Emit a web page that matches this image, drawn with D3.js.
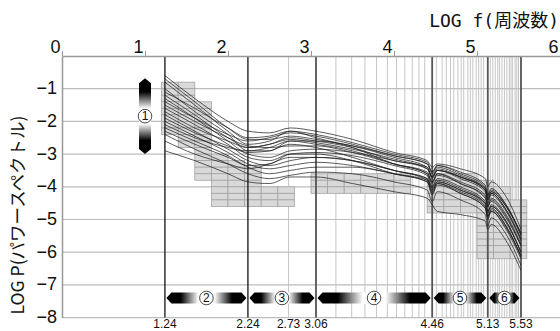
<!DOCTYPE html>
<html>
<head>
<meta charset="utf-8">
<script src="https://cdn.jsdelivr.net/npm/d3@7"></script>
<style>
body { margin: 0; background: #fff; }
svg { display: block; }
text { font-family: "Liberation Sans Narrow", "Liberation Sans", "Noto Sans CJK JP", sans-serif; fill: #111; }
</style>
</head>
<body>
<div id="chart"></div>
<script>
// values
const xTicks = [0, 1, 2, 3, 4, 5, 6];
const yTicks = [-1, -2, -3, -4, -5, -6, -7, -8];
const bandEdges = [1.24, 2.24, 3.06, 4.46, 5.13, 5.53];
const edgeLabels = [1.24, 2.24, 2.73, 3.06, 4.46, 5.13, 5.53];
const bandNames = ["2", "3", "4", "5", "6"];
const thinLines = [2.73,
    3.30, 3.49, 3.65, 3.79, 3.92, 4.03, 4.13, 4.22, 4.30, 4.37,
    4.51, 4.58, 4.63, 4.68, 4.72, 4.77, 4.81, 4.84, 4.89, 4.92, 4.95, 4.99, 5.02, 5.05, 5.08,
    5.16, 5.19, 5.22, 5.25, 5.27, 5.30, 5.33, 5.36, 5.39, 5.41, 5.43, 5.46, 5.48, 5.50];

// shaded cell columns: [start log f, top log P, bottom log P]
const cellCols = [
    [1.2, -0.8, -2.4], [1.4, -0.8, -2.8], [1.6, -1.4, -3.8], [1.8, -3.0, -4.6],
    [2.0, -3.2, -4.6], [2.2, -3.4, -4.6], [2.4, -4.0, -4.6], [2.6, -4.0, -4.6],
    [3.0, -3.6, -4.2], [3.2, -3.6, -4.2], [3.4, -3.6, -4.2], [3.6, -3.6, -4.2],
    [3.8, -3.6, -4.2], [4.0, -3.6, -4.2],
    [4.4, -3.6, -4.8], [4.6, -3.6, -4.8], [4.8, -3.6, -4.8],
    [5.0, -3.8, -6.2], [5.2, -4.0, -6.2], [5.4, -4.4, -6.2]
];

const specX = [1.24, 1.6, 2.0, 2.24, 2.5, 2.75, 3.06, 3.5, 4.0, 4.4, 4.46, 4.52, 4.8, 5.1, 5.13, 5.17, 5.35, 5.53];
const spectra = [
    [-0.6, -1.3, -2.0, -2.3, -2.35, -2.2, -2.3, -2.55, -2.95, -3.2, -3.4, -3.3, -3.45, -3.75, -4.0, -3.85, -4.3, -5.3],
    [-0.8, -1.5, -2.3, -2.7, -2.6, -2.3, -2.5, -2.8, -3.3, -3.6, -3.85, -3.65, -3.9, -4.35, -4.6, -4.45, -4.95, -5.8],
    [-1.0, -1.7, -2.4, -2.9, -2.9, -2.6, -2.7, -2.9, -3.3, -3.6, -3.9, -3.6, -3.9, -4.3, -4.6, -4.4, -4.9, -5.8],
    [-1.2, -1.8, -2.5, -2.8, -2.7, -2.5, -2.6, -2.8, -3.2, -3.4, -3.7, -3.5, -3.7, -4.1, -4.4, -4.2, -4.7, -5.6],
    [-1.3, -1.9, -2.6, -3.0, -3.1, -2.9, -2.85, -2.95, -3.2, -3.45, -3.7, -3.5, -3.7, -4.05, -4.3, -4.15, -4.6, -5.5],
    [-1.4, -1.9, -2.4, -2.6, -2.5, -2.35, -2.45, -2.7, -3.05, -3.3, -3.6, -3.4, -3.65, -4.05, -4.35, -4.15, -4.6, -5.4],
    [-1.5, -2.0, -2.5, -2.75, -2.8, -2.75, -2.75, -2.95, -3.3, -3.55, -3.85, -3.6, -3.85, -4.25, -4.6, -4.35, -4.85, -5.75],
    [-1.6, -2.1, -2.7, -3.1, -3.2, -3.0, -3.0, -3.2, -3.6, -3.85, -4.1, -3.9, -4.2, -4.65, -4.9, -4.75, -5.25, -6.1],
    [-1.7, -2.2, -2.6, -2.8, -2.7, -2.55, -2.65, -2.85, -3.15, -3.45, -3.75, -3.5, -3.75, -4.15, -4.5, -4.25, -4.75, -5.65],
    [-1.8, -2.3, -2.85, -3.2, -3.35, -3.2, -3.1, -3.2, -3.5, -3.75, -4.15, -3.85, -4.1, -4.55, -4.9, -4.65, -5.2, -6.1],
    [-1.9, -2.35, -2.75, -2.95, -2.9, -2.7, -2.8, -3.1, -3.5, -3.75, -4.0, -3.8, -4.05, -4.5, -4.75, -4.6, -5.1, -6.0],
    [-2.0, -2.45, -2.95, -3.3, -3.45, -3.35, -3.25, -3.35, -3.6, -3.85, -4.25, -3.95, -4.2, -4.65, -5.0, -4.75, -5.3, -6.2],
    [-2.1, -2.5, -2.8, -2.9, -2.8, -2.6, -2.6, -2.75, -3.05, -3.3, -3.55, -3.35, -3.6, -4.0, -4.25, -4.1, -4.55, -5.45],
    [-2.2, -2.6, -3.05, -3.4, -3.6, -3.5, -3.4, -3.4, -3.6, -3.8, -4.05, -3.85, -4.1, -4.5, -4.75, -4.6, -5.05, -6.0],
    [-2.3, -2.7, -3.1, -3.35, -3.3, -3.0, -2.95, -3.05, -3.35, -3.65, -4.0, -3.75, -4.0, -4.45, -4.8, -4.55, -5.05, -6.0],
    [-2.4, -2.85, -3.3, -3.6, -3.75, -3.65, -3.55, -3.6, -3.85, -4.1, -4.45, -4.15, -4.4, -4.85, -5.2, -4.95, -5.45, -6.4],
    [-2.9, -3.2, -3.6, -3.85, -3.9, -3.7, -3.7, -3.9, -4.15, -4.35, -4.55, -4.75, -4.85, -5.05, -5.3, -5.15, -5.65, -6.55],
    [-1.1, -1.6, -2.2, -2.5, -2.45, -2.3, -2.4, -2.65, -3.0, -3.25, -3.55, -3.35, -3.55, -3.95, -4.25, -4.05, -4.55, -5.45],
    [-2.6, -3.0, -3.3, -3.45, -3.3, -3.1, -3.1, -3.2, -3.5, -3.8, -4.2, -3.9, -4.15, -4.6, -4.95, -4.7, -5.2, -6.15],
    [-0.7, -1.4, -2.2, -2.55, -2.55, -2.45, -2.55, -2.75, -3.1, -3.4, -3.7, -3.45, -3.7, -4.1, -4.4, -4.2, -4.7, -5.6]
];

// size of the picture
let width = 560, height = 331;

let x = d3.scaleLinear().domain([0, 6]).range([62, 560]);
let y = d3.scaleLinear().domain([0, -8]).range([56, 317.6]);

let svg = d3.select("#chart").append("svg")
    .attr("width", width)
    .attr("height", height);

// gradients for the band arrows
let defs = svg.append("defs");
function addGradient(id, x2, y2) {
    let g = defs.append("linearGradient").attr("id", id)
        .attr("x1", 0).attr("y1", 0).attr("x2", x2).attr("y2", y2);
    [[0, "#000"], [0.18, "#000"], [0.4, "#fff"], [0.6, "#fff"], [0.82, "#000"], [1, "#000"]]
        .forEach(s => g.append("stop").attr("offset", s[0]).attr("stop-color", s[1]));
}
addGradient("gradH", 1, 0);
addGradient("gradV", 0, 1);

// thin vertical grid lines
svg.append("g").selectAll("line")
    .data(thinLines)
    .enter().append("line")
    .attr("x1", d => x(d)).attr("x2", d => x(d))
    .attr("y1", y(0)).attr("y2", y(-8))
    .attr("stroke", "#c6c6c6")
    .attr("stroke-width", 1);

// horizontal grid lines
svg.append("g").selectAll("line")
    .data(yTicks)
    .enter().append("line")
    .attr("x1", x(0)).attr("x2", width)
    .attr("y1", d => y(d)).attr("y2", d => y(d))
    .attr("stroke", "#bdbdbd")
    .attr("stroke-width", 1.2);

// shaded cells
let cells = [];
cellCols.forEach(c => {
    let n = Math.round((c[1] - c[2]) / 0.2);
    d3.range(n).forEach(i => cells.push({x0: c[0], top: c[1] - i * 0.2}));
});
svg.append("g").selectAll("rect")
    .data(cells)
    .enter().append("rect")
    .attr("x", d => x(d.x0))
    .attr("y", d => y(d.top))
    .attr("width", d => x(d.x0 + 0.2) - x(d.x0))
    .attr("height", d => y(d.top - 0.2) - y(d.top))
    .attr("fill", "#d9d9d9")
    .attr("stroke", "#a4a4a4")
    .attr("stroke-width", 0.8);

// band boundary lines
svg.append("g").selectAll("line")
    .data(bandEdges)
    .enter().append("line")
    .attr("x1", d => x(d)).attr("x2", d => x(d))
    .attr("y1", y(0)).attr("y2", y(-8))
    .attr("stroke", (d, i) => i < 2 ? "#111" : "#555")
    .attr("stroke-width", (d, i) => i < 2 ? 1.3 : 1.8);

// spectra
let line = d3.line()
    .x((d, i) => x(specX[i]))
    .y(d => y(d))
    .curve(d3.curveMonotoneX);
svg.append("g").selectAll("path")
    .data(spectra)
    .enter().append("path")
    .attr("d", line)
    .attr("fill", "none")
    .attr("stroke", "#1c1c1c")
    .attr("stroke-opacity", 0.8)
    .attr("stroke-width", 0.9);

// axes
let topAxis = svg.append("g")
    .attr("transform", "translate(0," + y(0) + ")")
    .call(d3.axisTop(x).tickValues(xTicks).tickFormat(d3.format("d")).tickSize(5).tickSizeOuter(0));
topAxis.select(".domain").attr("stroke", "#999").attr("stroke-width", 1.5);
topAxis.selectAll(".tick line").attr("stroke", "#999");
topAxis.selectAll(".tick text")
    .attr("text-anchor", "end")
    .attr("x", -2)
    .attr("y", -3)
    .attr("dy", 0)
    .style("font-size", "18px")
    .attr("fill", "#111");

let leftAxis = svg.append("g")
    .attr("transform", "translate(" + x(0) + ",0)")
    .call(d3.axisLeft(y).tickValues(yTicks).tickSize(0).tickSizeOuter(0));
leftAxis.select(".domain").attr("stroke", "#999").attr("stroke-width", 1.5);
leftAxis.selectAll(".tick text")
    .attr("x", -5)
    .attr("dy", "0.28em")
    .style("font-size", "18px")
    .attr("fill", "#111");

// marker 1 (vertical)
let mx = x(1.0), my0 = y(-0.68), my1 = y(-3.0), mw = 6, tip = 5;
svg.append("polygon")
    .attr("points", [[mx, my0], [mx + mw, my0 + tip], [mx + mw, my1 - tip], [mx, my1],
        [mx - mw, my1 - tip], [mx - mw, my0 + tip]].map(p => p.join(",")).join(" "))
    .attr("fill", "url(#gradV)");
svg.append("circle")
    .attr("cx", mx).attr("cy", (my0 + my1) / 2).attr("r", 6.8)
    .attr("fill", "#fff").attr("stroke", "#333").attr("stroke-width", 0.9);
svg.append("text")
    .attr("x", mx).attr("y", (my0 + my1) / 2)
    .attr("dy", "0.36em")
    .attr("text-anchor", "middle")
    .style("font-size", "12px")
    .text("1");

// band arrows 2-6
let ay = y(-7.4), ah = 5.5;
let arrows = svg.append("g").selectAll("g")
    .data(bandNames)
    .enter().append("g");
arrows.append("polygon")
    .attr("points", (d, i) => {
        let a = x(bandEdges[i]) + 1.5, b = x(bandEdges[i + 1]) - 1.5;
        return [[a, ay], [a + tip, ay - ah], [b - tip, ay - ah], [b, ay],
            [b - tip, ay + ah], [a + tip, ay + ah]].map(p => p.join(",")).join(" ");
    })
    .attr("fill", "url(#gradH)");
arrows.append("circle")
    .attr("cx", (d, i) => (x(bandEdges[i]) + x(bandEdges[i + 1])) / 2)
    .attr("cy", ay)
    .attr("r", 6.8)
    .attr("fill", "#fff").attr("stroke", "#333").attr("stroke-width", 0.9);
arrows.append("text")
    .attr("x", (d, i) => (x(bandEdges[i]) + x(bandEdges[i + 1])) / 2)
    .attr("y", ay)
    .attr("dy", "0.36em")
    .attr("text-anchor", "middle")
    .style("font-size", "12px")
    .text(d => d);

// frequency labels under the boundary lines
svg.append("g").selectAll("text")
    .data(edgeLabels)
    .enter().append("text")
    .attr("x", d => x(d))
    .attr("y", 327.5)
    .attr("text-anchor", "middle")
    .style("font-size", "12px")
    .text(d => d3.format(".2f")(d));

// axis titles
svg.append("text")
    .attr("x", 559)
    .attr("y", 27)
    .attr("text-anchor", "end")
    .style("font-family", "'DejaVu Sans Mono', 'Noto Sans CJK JP', monospace")
    .style("font-size", "18px")
    .text("LOG f(周波数)");

svg.append("text")
    .attr("transform", "translate(24,215) rotate(-90)")
    .attr("text-anchor", "middle")
    .style("font-family", "'Noto Sans CJK JP', sans-serif")
    .style("font-size", "17.5px")
    .text("LOG P(パワースペクトル)");
</script>
</body>
</html>
